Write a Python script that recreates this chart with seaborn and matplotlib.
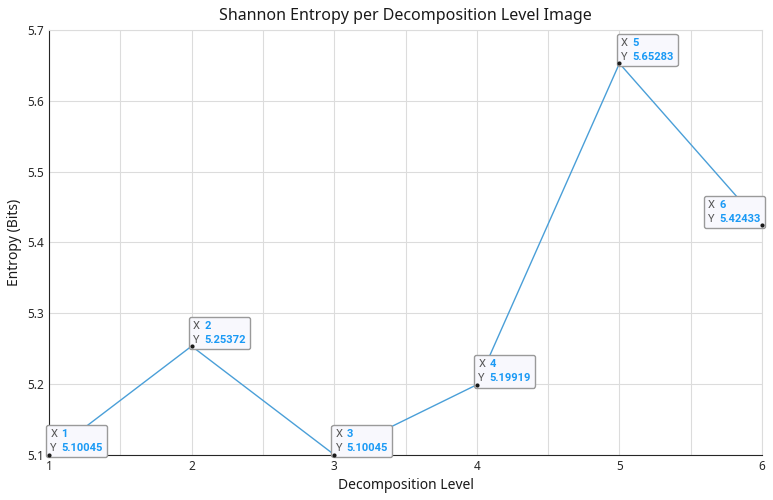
import numpy as np
import pandas as pd
import matplotlib
matplotlib.use('Agg')
import matplotlib.pyplot as plt
from matplotlib.offsetbox import TextArea, HPacker, AnnotationBbox
import seaborn as sns

levels = [1, 2, 3, 4, 5, 6]
entropy = [5.10045, 5.25372, 5.10045, 5.19919, 5.65283, 5.42433]
tip_side = ['right', 'right', 'right', 'right', 'right', 'left']

df = pd.DataFrame({'level': levels, 'entropy': entropy})

sns.set_style('white')
plt.rcParams['font.family'] = ['Noto Sans', 'DejaVu Sans']

fig = plt.figure(figsize=(7.73, 5), dpi=100)
ax = fig.add_axes([0.0634, 0.09, 0.9224, 0.85])

sns.lineplot(data=df, x='level', y='entropy', ax=ax, color='#4a9fd8',
             linewidth=1.0, zorder=3)
# markers on top of the data tips
sns.scatterplot(data=df, x='level', y='entropy', ax=ax, color='#1a1a1a',
                s=9, linewidth=0, zorder=7, clip_on=False)

ax.set_xlim(1, 6)
ax.set_ylim(5.1, 5.7)
xt = np.arange(1, 6.01, 0.5)
ax.set_xticks(xt)
ax.set_xticklabels([str(int(v)) if v == int(v) else '' for v in xt])
ax.set_yticks(np.round(np.arange(5.1, 5.71, 0.1), 1))
ax.grid(True, color='#dcdcdc', linewidth=0.8)
ax.tick_params(direction='in', length=4, labelsize=8.5, colors='#262626',
               top=False, right=False)

for s in ['left', 'bottom']:
    ax.spines[s].set_color('#262626')
    ax.spines[s].set_linewidth(0.8)
for s in ['top', 'right']:
    ax.spines[s].set_color('#dcdcdc')
    ax.spines[s].set_linewidth(0.8)

ax.set_title('Shannon Entropy per Decomposition Level Image', fontsize=11.5,
             color='#1a1a1a', pad=7)
ax.set_xlabel('Decomposition Level', fontsize=10, color='#1a1a1a')
ax.set_ylabel('Entropy (Bits)', fontsize=10, color='#1a1a1a')

tip_font = ['Roboto', 'DejaVu Sans']
for x, y, side in zip(levels, entropy, tip_side):
    lab = TextArea('X\nY', textprops=dict(color='#555555', fontsize=8,
                                          family=tip_font, linespacing=1.5))
    val = TextArea(f'{x}\n{y:.5f}', textprops=dict(color='#1a9af5', fontsize=8,
                                                   family=tip_font,
                                                   fontweight='bold', linespacing=1.5))
    pack = HPacker(children=[lab, val], align='top', pad=0, sep=3)
    if side == 'right':
        align = (0, 0)
        off = (1, 1)
    else:
        align = (1, 0)
        off = (-1, 1)
    ab = AnnotationBbox(pack, (x, y), xybox=off, xycoords='data',
                        boxcoords='offset points', box_alignment=align,
                        frameon=True, pad=0.32,
                        bboxprops=dict(boxstyle='round,rounding_size=0.15',
                                       fc='#f8f8fd', ec='#9a9a9a', lw=1.0),
                        annotation_clip=False, zorder=5)
    ax.add_artist(ab)

fig.savefig('out.png', dpi=100)
